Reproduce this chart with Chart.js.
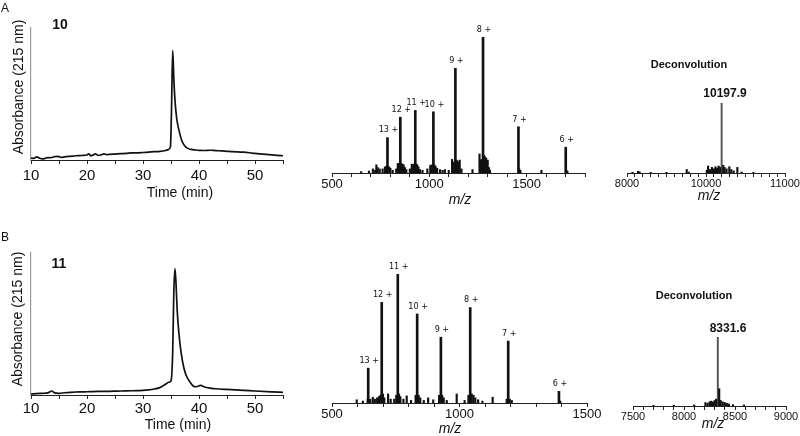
<!DOCTYPE html>
<html>
<head>
<meta charset="utf-8">
<script src="https://cdn.jsdelivr.net/npm/chart.js@4"></script>
<style>
  html, body { margin: 0; padding: 0; background: #fff; overflow: hidden; }
  #fig { position: relative; width: 800px; height: 436px; overflow: hidden;
         font-family: "Liberation Sans", Arial, Helvetica, sans-serif; color: #111; }
  #fig canvas { position: absolute; }
  .t { position: absolute; white-space: nowrap; line-height: 1; transform: translate(-50%, -50%); }
  .ylab { transform: translate(-50%, -50%) rotate(-90deg); font-size: 14px; }
  .xlab { font-size: 14px; }
  .mz { font-size: 14px; font-style: italic; }
  .b { font-weight: bold; }
</style>
</head>
<body>
<div id="fig">
  <canvas id="lcA" width="300" height="200" style="left:0;top:0"></canvas>
  <canvas id="lcB" width="300" height="200" style="left:0;top:230px"></canvas>
  <canvas id="msA" width="310" height="215" style="left:300px;top:0"></canvas>
  <canvas id="msB" width="310" height="211" style="left:300px;top:225px"></canvas>
  <canvas id="dcA" width="220" height="140" style="left:600px;top:60px"></canvas>
  <canvas id="dcB" width="220" height="146" style="left:600px;top:290px"></canvas>

  <div class="t" style="left:5px;top:8px;font-size:12px">A</div>
  <div class="t" style="left:5px;top:237px;font-size:12px">B</div>
  <div class="t b" style="left:60px;top:24px;font-size:14px">10</div>
  <div class="t b" style="left:59px;top:263px;font-size:14px">11</div>
  <div class="t ylab" style="left:18px;top:87px">Absorbance (215 nm)</div>
  <div class="t ylab" style="left:17px;top:319px">Absorbance (215 nm)</div>
  <div class="t xlab" style="left:180px;top:192px">Time (min)</div>
  <div class="t xlab" style="left:178px;top:424px">Time (min)</div>
  <div class="t mz" style="left:460px;top:199px">m/z</div>
  <div class="t mz" style="left:450px;top:428px">m/z</div>
  <div class="t mz" style="left:709px;top:195px">m/z</div>
  <div class="t mz" style="left:713px;top:423px">m/z</div>
  <div class="t b" style="left:689px;top:64px;font-size:11px">Deconvolution</div>
  <div class="t b" style="left:694px;top:295px;font-size:11px">Deconvolution</div>
  <div class="t b" style="left:725px;top:93px;font-size:12px">10197.9</div>
  <div class="t b" style="left:728px;top:328px;font-size:12px">8331.6</div>
</div>

<script>
  const FONT = '"Liberation Sans", Arial, Helvetica, sans-serif';
  const LABEL_FONT = '9px "Liberation Sans Narrow", "Arial Narrow", "DejaVu Sans Condensed", sans-serif';

  // HPLC traces (time in min, absorbance in % of axis height)
  const lcTimeA = [10, 10.5, 11, 11.5, 12, 12.5, 13, 13.5, 14, 14.5, 15, 15.5, 16, 17, 18, 19, 20, 20.3, 20.7, 21,
    21.5, 22, 22.5, 23, 23.5, 24, 25, 26, 27, 28, 29, 30, 31, 32, 33, 34, 34.5, 34.9, 35.1, 35.3,
    35.5, 35.7, 36, 36.4, 36.9, 37.4, 38, 38.6, 39.3, 40, 41, 42, 43, 44, 45, 46, 47, 48, 49, 50, 52, 54, 55];
  const lcAbsA = [1.5, 1.2, 2.4, 1.4, 0.8, 1.2, 1.8, 1.7, 2.3, 2.8, 2.5, 2.0, 2.4, 2.8, 3.2, 3.4, 3.8, 4.6, 3.2, 3.6,
    4.6, 3.5, 3.9, 4.6, 4.0, 4.3, 4.5, 4.8, 5.0, 5.4, 5.4, 5.7, 6.0, 6.3, 6.6, 7.2, 7.8, 10, 40, 83,
    62, 46, 32, 23, 15, 11, 8.8, 8.0, 7.6, 7.3, 7.2, 7.4, 7.1, 6.9, 6.6, 6.3, 6.1, 5.9, 5.5, 5.0, 4.2, 3.5, 3.2];

  const lcTimeB = [10, 11, 12, 13, 13.7, 14.2, 15, 16, 17, 18, 19, 20, 21, 22, 23, 24, 25, 26, 27, 28,
    29, 30, 31, 32, 33, 34, 34.6, 35.0, 35.3, 35.5, 35.7, 35.9, 36.1, 36.4, 36.8, 37.3, 37.8, 38.4, 39, 39.5,
    40.3, 41, 42, 43, 45, 48, 50, 53, 55];
  const lcAbsB = [0.7, 1.0, 1.2, 1.5, 2.8, 1.5, 1.2, 1.6, 1.9, 2.1, 2.2, 2.3, 2.4, 2.5, 2.6, 2.6, 2.7, 2.8, 2.9, 3.0,
    3.1, 3.2, 3.6, 4.2, 5.2, 7.5, 9.0, 10, 30, 72, 89, 78, 60, 44, 30, 19, 13, 9, 6.2, 5.8,
    6.8, 5.6, 4.9, 4.4, 3.9, 3.3, 2.8, 2.2, 1.9];

  // ESI-MS, compound 10 (intensity relative to 8+ = 100)
  const msPeaksMzA = [785, 851, 928, 1021, 1134, 1276, 1458, 1701];
  const msPeaksIntA = [26, 41, 46, 45, 77, 100, 34, 19];
  const msChargesA = ["13 +", "12 +", "11 +", "10 +", "9 +", "8 +", "7 +", "6 +"];
  const msMinorMzA = [650, 690, 710, 722, 728, 735, 745, 760, 772, 780, 790, 795, 800, 812, 830, 838, 845, 856, 862, 868,
    875, 882, 900, 910, 918, 933, 938, 944, 952, 965, 990, 1005, 1012, 1026, 1032, 1040, 1055, 1068, 1080, 1100,
    1117, 1125, 1138, 1143, 1150, 1156, 1165, 1222, 1258, 1262, 1268, 1280, 1286, 1292, 1300, 1306, 1312, 1462, 1468, 1576,
    1705, 1710];
  const msMinorIntA = [1, 1.5, 3, 2, 6, 4, 3, 3, 4.5, 5, 5, 4, 3.5, 2, 3, 7, 7, 7, 6.5, 6,
    4, 2.5, 3, 6.5, 6.5, 6.5, 6, 4.5, 2.5, 2, 3, 5.5, 6, 6, 5, 3.5, 2.5, 2, 2.5, 2,
    10, 8, 9.5, 9, 8, 9.5, 3, 2.5, 14, 9, 10, 13, 12, 11, 9.5, 4, 2, 3, 2, 2,
    2, 1];

  // ESI-MS, compound 11 (intensity relative to 11+ = 100)
  const msPeaksMzB = [642, 695, 758, 834, 927, 1042, 1191, 1390];
  const msPeaksIntB = [27, 78, 100, 69, 51, 74, 48, 9];
  const msChargesB = ["13 +", "12 +", "11 +", "10 +", "9 +", "8 +", "7 +", "6 +"];
  const msMinorMzB = [597, 621, 640, 650, 660, 668, 677, 684, 690, 700, 705, 720, 730, 744, 752, 763, 768, 780, 793, 810,
    828, 840, 846, 860, 877, 897, 920, 932, 938, 950, 989, 1020, 1035, 1048, 1055, 1062, 1073, 1090, 1130, 1185,
    1197, 1205, 1395];
  const msMinorIntB = [2.5, 1.5, 3, 3, 4.5, 3, 4, 5, 6, 7, 4, 7, 3, 3, 6, 7, 5, 3, 5.5, 2,
    6, 6, 4, 2, 4, 2.5, 6, 6, 4, 2, 7, 2, 6, 7, 6, 4, 2.5, 1.5, 4.5, 3,
    3, 2, 1.5];

  // Deconvoluted spectra (intensity relative to main peak = 100)
  const dcMainMzA = [10197.9];
  const dcMinorMzA = [9070, 9140, 9160, 9300, 9500, 9756, 9780, 10010, 10026, 10050, 10075, 10100, 10120, 10140, 10160, 10180,
    10218, 10235, 10260, 10295, 10320, 10350, 10397, 10450, 10600];
  const dcMinorIntA = [1, 2.5, 1.5, 1, 1, 5, 1.5, 4, 10, 5, 8, 6, 9, 7, 10, 8,
    11, 8, 6, 9, 5, 3, 8, 1.5, 1];
  const dcTickValuesA = [9000, 10000, 11000];
  const dcTickLabelsA = ["8000", "10000", "11000"];

  const dcMainMzB = [8331.6];
  const dcMinorMzB = [7700, 7900, 8100, 8210, 8230, 8250, 8265, 8285, 8300, 8315, 8345, 8360, 8380, 8400, 8420, 8440, 8480, 8588];
  const dcMinorIntB = [1, 1, 1.5, 5, 4, 6, 7, 6, 8, 10, 25, 8, 6, 5, 4, 3, 2, 1.5];
  const dcTickValuesB = [7500, 8000, 8500, 9000];

  const msTickValuesA = [500, 1000, 1500];
  const msTickValuesB = [500, 1000, 1500];

  const pairs = (xs, ys) => xs.map((x, i) => ({ x: x, y: ys[i] }));

  const chargeLabels = {
    id: "chargeLabels",
    afterDatasetsDraw(chart, args, opts) {
      if (!opts.labels) return;
      const { ctx, scales } = chart;
      ctx.save();
      ctx.font = LABEL_FONT;
      ctx.fillStyle = "#111";
      ctx.textAlign = "center";
      ctx.textBaseline = "bottom";
      opts.labels.forEach((text, i) => {
        ctx.fillText(text, scales.x.getPixelForValue(opts.mz[i]) + 1, scales.y.getPixelForValue(opts.heights[i]) - 3);
      });
      ctx.restore();
    }
  };

  function baseOptions(pad, axisH, x) {
    return {
      responsive: false,
      animation: false,
      events: [],
      layout: { padding: pad },
      plugins: { legend: { display: false }, tooltip: { enabled: false } },
      scales: {
        x: Object.assign({
          type: "linear",
          offset: false,
          afterFit: (s) => { s.height = axisH; },
          grid: { drawOnChartArea: false, offset: false, tickLength: 4, color: "#222" },
          border: { color: "#222", width: 1 }
        }, x)
      }
    };
  }

  function tickText(values, labels) {
    return (v) => {
      const i = values.indexOf(v);
      return i < 0 ? "" : (labels ? labels[i] : String(v));
    };
  }

  function lcChart(id, times, values, pad, axisH, labelPad) {
    const options = baseOptions(pad, axisH, {
      min: 10, max: 55,
      ticks: { stepSize: 5, autoSkip: false, maxRotation: 0, padding: labelPad, color: "#111",
               font: { family: FONT, size: 15 }, callback: (v) => (v % 10 === 0 ? String(v) : "") }
    });
    options.scales.y = {
      min: 0, max: 100,
      afterFit: (s) => { s.width = 0; },
      ticks: { display: false },
      grid: { display: false, drawTicks: false },
      border: { color: "#9a9a9a", width: 1.2 }
    };
    return new Chart(document.getElementById(id), {
      type: "line",
      data: { datasets: [{ data: pairs(times, values), borderColor: "#111", borderWidth: 1.7,
                           pointRadius: 0, cubicInterpolationMode: "monotone", fill: false }] },
      options
    });
  }

  function spectrum(id, cfg) {
    const options = baseOptions(cfg.pad, cfg.axisH, {
      min: cfg.min, max: cfg.max,
      ticks: { stepSize: 100, autoSkip: false, maxRotation: 0, padding: 0, color: "#111",
               font: { family: FONT, size: cfg.fontSize }, callback: tickText(cfg.tickValues, cfg.tickLabels) }
    });
    options.scales.y = { display: false, min: 0, max: 100 };
    options.plugins.chargeLabels = cfg.labels
      ? { labels: cfg.labels, mz: cfg.mainMz, heights: cfg.mainInt }
      : {};
    return new Chart(document.getElementById(id), {
      type: "bar",
      data: {
        datasets: [
          { data: pairs(cfg.minorMz, cfg.minorInt), backgroundColor: "#111", barThickness: 1.5, grouped: false },
          { data: pairs(cfg.mainMz, cfg.mainInt), backgroundColor: cfg.mainColor, barThickness: cfg.mainWidth, grouped: false }
        ]
      },
      options,
      plugins: [chargeLabels]
    });
  }

  lcChart("lcA", lcTimeA, lcAbsA, { top: 28, left: 31, right: 17, bottom: 0 }, 40, 3);
  lcChart("lcB", lcTimeB, lcAbsB, { top: 23, left: 31, right: 17, bottom: 0 }, 35, 1);

  spectrum("msA", {
    pad: { top: 37, left: 32, right: 25, bottom: 0 }, axisH: 42, min: 500, max: 1800, fontSize: 13,
    tickValues: msTickValuesA, mainMz: msPeaksMzA, mainInt: msPeaksIntA, labels: msChargesA,
    minorMz: msMinorMzA, minorInt: msMinorIntA, mainColor: "#111", mainWidth: 2
  });
  spectrum("msB", {
    pad: { top: 49, left: 32, right: 23, bottom: 0 }, axisH: 33, min: 500, max: 1500, fontSize: 13,
    tickValues: msTickValuesB, mainMz: msPeaksMzB, mainInt: msPeaksIntB, labels: msChargesB,
    minorMz: msMinorMzB, minorInt: msMinorIntB, mainColor: "#111", mainWidth: 2
  });
  spectrum("dcA", {
    pad: { top: 43, left: 27, right: 35, bottom: 0 }, axisH: 27, min: 9000, max: 11000, fontSize: 11,
    tickValues: dcTickValuesA, tickLabels: dcTickLabelsA, mainMz: dcMainMzA, mainInt: [100],
    minorMz: dcMinorMzA, minorInt: dcMinorIntA, mainColor: "#555", mainWidth: 1.3
  });
  spectrum("dcB", {
    pad: { top: 47, left: 33, right: 34, bottom: 0 }, axisH: 30, min: 7500, max: 9000, fontSize: 11,
    tickValues: dcTickValuesB, mainMz: dcMainMzB, mainInt: [100],
    minorMz: dcMinorMzB, minorInt: dcMinorIntB, mainColor: "#555", mainWidth: 1.3
  });
</script>
</body>
</html>
